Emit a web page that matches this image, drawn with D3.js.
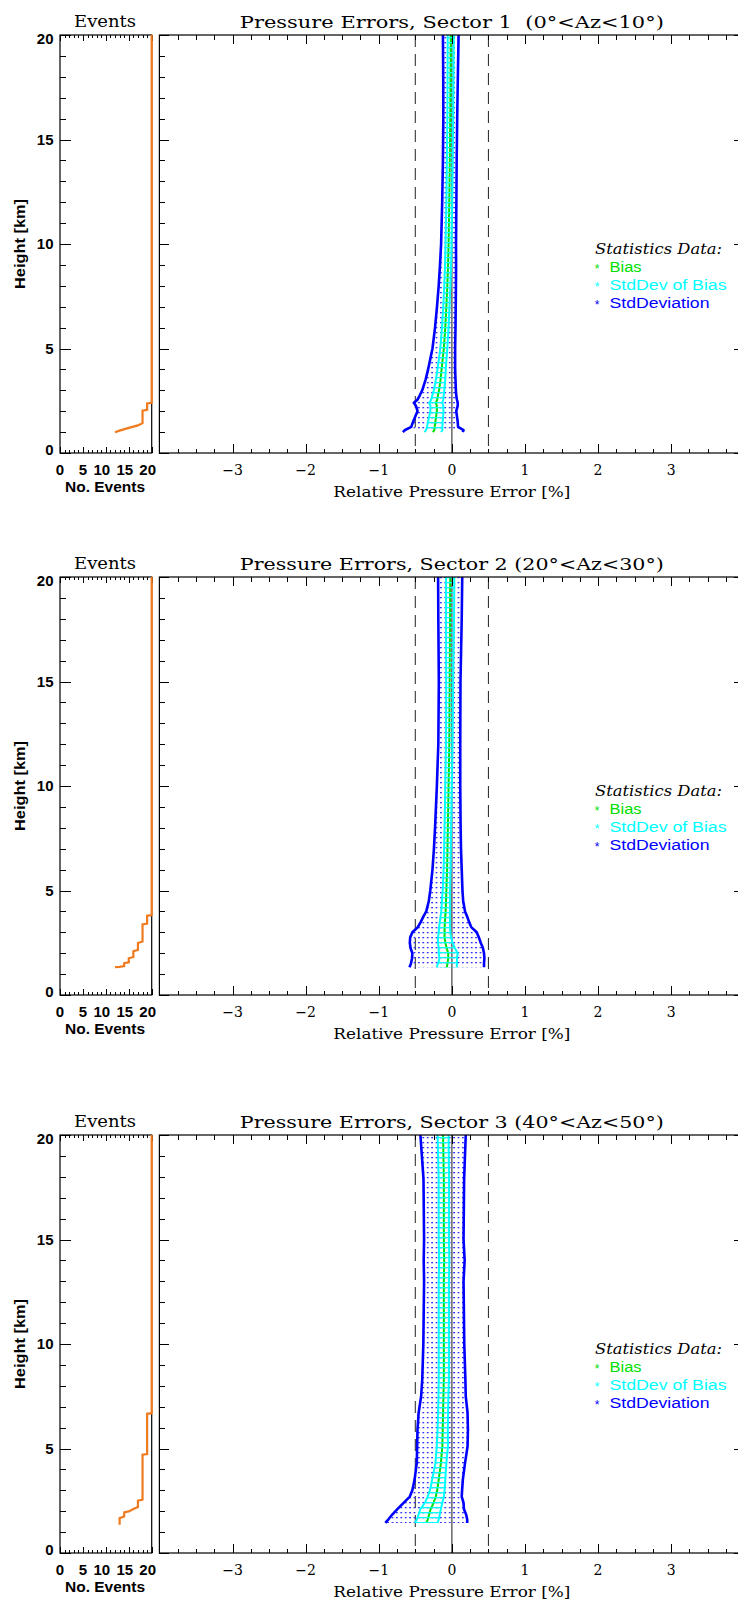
<!DOCTYPE html>
<html><head><meta charset="utf-8">
<script src="https://cdn.jsdelivr.net/npm/d3@7"></script>
<style>body{margin:0;background:#fff} svg{display:block}</style>
</head><body>
<svg id="chart" width="738" height="1600"></svg>
<script>
// ---------------- DATA ----------------
const sectorTitles = [
  "Pressure Errors, Sector 1  (0°<Az<10°)",
  "Pressure Errors, Sector 2 (20°<Az<30°)",
  "Pressure Errors, Sector 3 (40°<Az<50°)"
];
const heightDomain = [0, 20];
const eventsDomain = [0, 20];
const errorDomain = [-4, 4];
const heightMajorTicks = [0, 5, 10, 15, 20];
const heightTickLabels = ["0", "5", "10", "15", "20"];
const eventsMajorTicks = [0, 5, 10, 15, 20];
const eventsTickLabels = ["0", "5", "10", "15", "20"];
const errorMajorTicks = [-3, -2, -1, 0, 1, 2, 3];
const errorTickLabels = ["\u22123", "\u22122", "\u22121", "0", "1", "2", "3"];
const errorLimits = [-0.5, 0.5];
const legendItems = ["Bias", "StdDev of Bias", "StdDeviation"];

// Sector 1
const heights1 = [1.0, 1.1, 1.25, 1.5, 1.75, 2.0, 2.25, 2.4, 2.55, 2.75, 3.0, 3.5, 4.0, 4.5, 5.0, 6.0, 7.0, 8.0, 9.0, 10.0, 12.0, 14.0, 16.0, 18.0, 20.0];
const bias1    = [-0.26, -0.24, -0.235, -0.225, -0.215, -0.205, -0.205, -0.22, -0.2, -0.19, -0.175, -0.155, -0.14, -0.125, -0.11, -0.09, -0.075, -0.062, -0.052, -0.045, -0.035, -0.028, -0.022, -0.018, -0.015];
const sdBias1  = [0.115, 0.112, 0.105, 0.1, 0.095, 0.09, 0.088, 0.09, 0.082, 0.078, 0.072, 0.064, 0.057, 0.052, 0.048, 0.045, 0.043, 0.042, 0.041, 0.041, 0.04, 0.04, 0.04, 0.041, 0.042];
const std1     = [0.41, 0.40, 0.32, 0.305, 0.285, 0.265, 0.285, 0.30, 0.27, 0.25, 0.23, 0.205, 0.185, 0.17, 0.155, 0.14, 0.128, 0.118, 0.11, 0.102, 0.097, 0.094, 0.095, 0.1, 0.107];
const eventsN1 = [12, 13, 15, 17, 18, 18, 19, 19, 20, 20];
const eventsH1 = [0.99, 1.07, 1.2, 1.32, 1.43, 2.02, 2.06, 2.37, 2.4, 20];

// Sector 2
const heights2 = [1.33, 1.5, 1.75, 2.0, 2.25, 2.5, 2.75, 3.0, 3.25, 3.5, 3.75, 4.0, 4.5, 5.0, 6.0, 7.0, 8.0, 10.0, 12.0, 15.0, 18.0, 20.0];
const bias2    = [-0.07, -0.06, -0.05, -0.05, -0.07, -0.09, -0.1, -0.1, -0.1, -0.095, -0.09, -0.085, -0.08, -0.075, -0.065, -0.06, -0.055, -0.045, -0.035, -0.03, -0.025, -0.023];
const sdBias2  = [0.137, 0.13, 0.12, 0.13, 0.11, 0.1, 0.09, 0.08, 0.075, 0.07, 0.065, 0.06, 0.055, 0.05, 0.048, 0.046, 0.045, 0.045, 0.045, 0.048, 0.055, 0.057];
const std2     = [0.51, 0.5, 0.495, 0.49, 0.495, 0.485, 0.47, 0.44, 0.365, 0.33, 0.3, 0.265, 0.235, 0.22, 0.2, 0.185, 0.175, 0.16, 0.15, 0.148, 0.16, 0.165];
const eventsN2 = [12, 13, 14, 14, 15, 15, 16, 16, 17, 17, 18, 18, 19, 19, 20, 20];
const eventsH2 = [1.33, 1.35, 1.38, 1.52, 1.56, 1.76, 1.82, 2.09, 2.16, 2.49, 2.56, 3.38, 3.42, 3.79, 3.82, 20];

// Sector 3
const heights3 = [1.44, 1.6, 1.84, 2.1, 2.4, 2.7, 3.0, 3.5, 4.3, 5.1, 5.9, 6.7, 7.5, 8.3, 10.0, 13.0, 14.0, 15.0, 17.9, 20.0];
const bias3    = [-0.35, -0.33, -0.31, -0.29, -0.25, -0.22, -0.2, -0.18, -0.15, -0.13, -0.125, -0.12, -0.115, -0.11, -0.11, -0.11, -0.105, -0.11, -0.11, -0.12];
const sdBias3  = [0.155, 0.15, 0.145, 0.14, 0.12, 0.11, 0.1, 0.09, 0.075, 0.077, 0.07, 0.068, 0.068, 0.07, 0.07, 0.07, 0.07, 0.07, 0.071, 0.075];
const std3     = [0.56, 0.54, 0.505, 0.455, 0.41, 0.355, 0.34, 0.33, 0.33, 0.345, 0.345, 0.335, 0.305, 0.295, 0.28, 0.27, 0.28, 0.27, 0.278, 0.31];
const eventsN3 = [13, 13, 14, 14, 15, 16, 17, 17, 18, 18, 19, 19, 20, 20];
const eventsH3 = [1.35, 1.67, 1.75, 1.94, 1.99, 2.1, 2.2, 2.5, 2.55, 4.7, 4.73, 6.66, 6.69, 20];

// ---------------- LAYOUT / STYLE ----------------
const panelTops = [35, 577, 1135];
const PH = 418;
const evX0 = 60, evX1 = 151.7, mX0 = 159.4, mX1 = 744.3;
const serif = "'DejaVu Serif', 'Liberation Serif', serif";
const sans = "'Liberation Sans', Arial, sans-serif";
const C = {blue: "#0000ff", cyan: "#00ffff", green: "#00e000", orange: "#f07a1e", zero: "#707070"};

const svg = d3.select("#chart");
const defs = svg.append("defs");
const pd = defs.append("pattern").attr("id", "dotHatch").attr("patternUnits", "userSpaceOnUse")
  .attr("width", 4.4).attr("height", 5);
pd.append("rect").attr("x", 0).attr("y", 2).attr("width", 1.8).attr("height", 1.3).attr("fill", "#2f2fff");
const pc = defs.append("pattern").attr("id", "cyanHatch").attr("patternUnits", "userSpaceOnUse")
  .attr("width", 10).attr("height", 5);
pc.append("rect").attr("x", 0).attr("y", 2).attr("width", 10).attr("height", 1.3).attr("fill", C.cyan);

function tickAxis(g, axisFn, scale, vals, size, tx, ty) {
  const ax = axisFn(scale).tickValues(vals).tickSizeInner(-size).tickSizeOuter(0).tickFormat("");
  const a = g.append("g").attr("transform", `translate(${tx},${ty})`).call(ax);
  a.select(".domain").remove();
  a.selectAll("line").attr("stroke", "#000").attr("stroke-width", 1).attr("shape-rendering", "crispEdges");
}

const datasets = [
  {title: sectorTitles[0], h: heights1, b: bias1, sb: sdBias1, sd: std1, en: eventsN1, eh: eventsH1},
  {title: sectorTitles[1], h: heights2, b: bias2, sb: sdBias2, sd: std2, en: eventsN2, eh: eventsH2},
  {title: sectorTitles[2], h: heights3, b: bias3, sb: sdBias3, sd: std3, en: eventsN3, eh: eventsH3}
];

datasets.forEach((p, i) => {
  const T = panelTops[i], B = T + PH;
  const g = svg.append("g");
  const y = d3.scaleLinear().domain(heightDomain).range([B, T]);
  const xe = d3.scaleLinear().domain(eventsDomain).range([evX0, evX1]);
  const xm = d3.scaleLinear().domain(errorDomain).range([mX0, mX1]);
  const minorH = d3.range(heightDomain[0], heightDomain[1] + 1, 1).filter(v => v % 5 !== 0);
  const minorE = d3.range(eventsDomain[0], eventsDomain[1] + 1, 1).filter(v => v % 5 !== 0);
  const minorX = d3.range(errorDomain[0], errorDomain[1] + 0.001, 0.25).filter(v => Math.abs(v - Math.round(v)) > 1e-6);
  const majorX = d3.range(errorDomain[0], errorDomain[1] + 1, 1);

  // ---- events panel ----
  g.append("rect").attr("x", evX0).attr("y", T).attr("width", evX1 - evX0).attr("height", PH)
    .attr("fill", "none").attr("stroke", "#000").attr("stroke-width", 1.2);
  tickAxis(g, d3.axisLeft, y, heightMajorTicks, 11, evX0, 0);
  tickAxis(g, d3.axisLeft, y, minorH, 6, evX0, 0);
  tickAxis(g, d3.axisBottom, xe, eventsMajorTicks, 6, 0, B);
  tickAxis(g, d3.axisBottom, xe, minorE, 3, 0, B);
  tickAxis(g, d3.axisTop, xe, eventsMajorTicks, 6, 0, T);
  tickAxis(g, d3.axisTop, xe, minorE, 3, 0, T);

  g.selectAll(".ylab").data(heightMajorTicks).enter().append("text")
    .attr("x", 53.5).attr("y", (d, k) => y(d) + 5 + (k === 0 ? -3 : (k === heightMajorTicks.length - 1 ? 4 : 0)))
    .attr("text-anchor", "end").attr("font-family", sans).attr("font-weight", "bold").attr("font-size", 15)
    .text((d, k) => heightTickLabels[k]);
  g.selectAll(".exlab").data(eventsMajorTicks).enter().append("text")
    .attr("x", d => xe(d)).attr("dx", (d, k) => -(eventsTickLabels[k].length - 1) * 4)
    .attr("y", B + 22).attr("text-anchor", "middle")
    .attr("font-family", sans).attr("font-weight", "bold").attr("font-size", 15)
    .text((d, k) => eventsTickLabels[k]);
  g.append("text").attr("x", 105).attr("y", B + 39).attr("text-anchor", "middle")
    .attr("font-family", sans).attr("font-weight", "bold").attr("font-size", 15)
    .attr("textLength", 80).attr("lengthAdjust", "spacingAndGlyphs").text("No. Events");
  g.append("text").attr("transform", `translate(25,${T + PH / 2}) rotate(-90)`).attr("text-anchor", "middle")
    .attr("font-family", sans).attr("font-weight", "bold").attr("font-size", 14)
    .attr("textLength", 90).attr("lengthAdjust", "spacingAndGlyphs").text("Height [km]");
  g.append("text").attr("x", 105).attr("y", T - 8).attr("text-anchor", "middle")
    .attr("font-family", serif).attr("font-size", 16).attr("textLength", 62).attr("lengthAdjust", "spacingAndGlyphs")
    .text("Events");

  const evPts = p.en.map((n, k) => [n, p.eh[k]]);
  g.append("path").datum(evPts)
    .attr("d", d3.line().x(d => xe(d[0])).y(d => y(d[1])))
    .attr("fill", "none").attr("stroke", C.orange).attr("stroke-width", 2.2);

  // ---- main panel ----
  const clipId = "clip" + i;
  defs.append("clipPath").attr("id", clipId).append("rect")
    .attr("x", mX0).attr("y", T).attr("width", mX1 - mX0).attr("height", PH);
  const mg = g.append("g").attr("clip-path", `url(#${clipId})`);

  const rows = p.h.map((h, k) => ({h: h, b: p.b[k], sb: p.sb[k], sd: p.sd[k]}));

  mg.append("line").attr("x1", xm(0)).attr("x2", xm(0)).attr("y1", T).attr("y2", B)
    .attr("stroke", C.zero).attr("stroke-width", 1.6);
  mg.selectAll(".lim").data(errorLimits).enter().append("line")
    .attr("x1", d => xm(d)).attr("x2", d => xm(d)).attr("y1", T).attr("y2", B)
    .attr("stroke", "#222").attr("stroke-width", 1).attr("stroke-dasharray", "12,7");

  const areaStd = d3.area().y(d => y(d.h)).x0(d => xm(d.b - d.sd)).x1(d => xm(d.b + d.sd));
  const areaSb = d3.area().y(d => y(d.h)).x0(d => xm(d.b - d.sb)).x1(d => xm(d.b + d.sb));
  mg.append("path").datum(rows).attr("d", areaStd).attr("fill", "url(#dotHatch)");
  mg.append("path").datum(rows).attr("d", d3.line().x(d => xm(d.b)).y(d => y(d.h)))
    .attr("fill", "none").attr("stroke", C.green).attr("stroke-width", 2);
  mg.append("path").datum(rows).attr("d", areaSb).attr("fill", "url(#cyanHatch)");

  [-1, 1].forEach(s => {
    mg.append("path").datum(rows).attr("d", d3.line().x(d => xm(d.b + s * d.sb)).y(d => y(d.h)))
      .attr("fill", "none").attr("stroke", C.cyan).attr("stroke-width", 2);
  });
  [-1, 1].forEach(s => {
    mg.append("path").datum(rows).attr("d", d3.line().x(d => xm(d.b + s * d.sd)).y(d => y(d.h)))
      .attr("fill", "none").attr("stroke", C.blue).attr("stroke-width", 2.6).attr("stroke-linejoin", "round");
  });

  g.append("rect").attr("x", mX0).attr("y", T).attr("width", mX1 - mX0).attr("height", PH)
    .attr("fill", "none").attr("stroke", "#000").attr("stroke-width", 1.2);
  tickAxis(g, d3.axisLeft, y, heightMajorTicks, 10, mX0, 0);
  tickAxis(g, d3.axisLeft, y, minorH, 5.5, mX0, 0);
  tickAxis(g, d3.axisRight, y, heightMajorTicks, 10, mX1, 0);
  tickAxis(g, d3.axisRight, y, minorH, 5.5, mX1, 0);
  tickAxis(g, d3.axisBottom, xm, majorX, 9, 0, B);
  tickAxis(g, d3.axisBottom, xm, minorX, 4.5, 0, B);
  tickAxis(g, d3.axisTop, xm, majorX, 9, 0, T);
  tickAxis(g, d3.axisTop, xm, minorX, 4.5, 0, T);

  g.selectAll(".xlab").data(errorMajorTicks).enter().append("text")
    .attr("x", d => xm(d)).attr("y", B + 22).attr("text-anchor", "middle")
    .attr("font-family", serif).attr("font-size", 14).text((d, k) => errorTickLabels[k]);
  g.append("text").attr("x", xm(0)).attr("y", B + 44).attr("text-anchor", "middle")
    .attr("font-family", serif).attr("font-size", 14).attr("textLength", 237).attr("lengthAdjust", "spacingAndGlyphs")
    .text("Relative Pressure Error [%]");
  g.append("text").attr("x", xm(0)).attr("y", T - 7).attr("text-anchor", "middle")
    .style("white-space", "pre").attr("font-family", serif).attr("font-size", 17)
    .attr("textLength", 424).attr("lengthAdjust", "spacingAndGlyphs").text(p.title);

  // legend
  const lg = g.append("g");
  lg.append("text").attr("x", 595).attr("y", T + 219).attr("font-family", serif).attr("font-style", "italic")
    .attr("font-size", 14).attr("textLength", 127).attr("lengthAdjust", "spacingAndGlyphs").text("Statistics Data:");
  const lcol = [C.green, C.cyan, C.blue];
  const llen = [32, 117, 100];
  legendItems.forEach((name, k) => {
    const yy = T + 237 + k * 18;
    lg.append("text").attr("x", 597).attr("y", yy + 1).attr("text-anchor", "middle")
      .attr("font-family", sans).attr("font-size", 12).attr("fill", lcol[k]).text("*");
    lg.append("text").attr("x", 609.5).attr("y", yy).attr("font-family", sans).attr("font-size", 14)
      .attr("fill", lcol[k]).attr("textLength", llen[k]).attr("lengthAdjust", "spacingAndGlyphs").text(name);
  });
});
</script>
</body></html>
